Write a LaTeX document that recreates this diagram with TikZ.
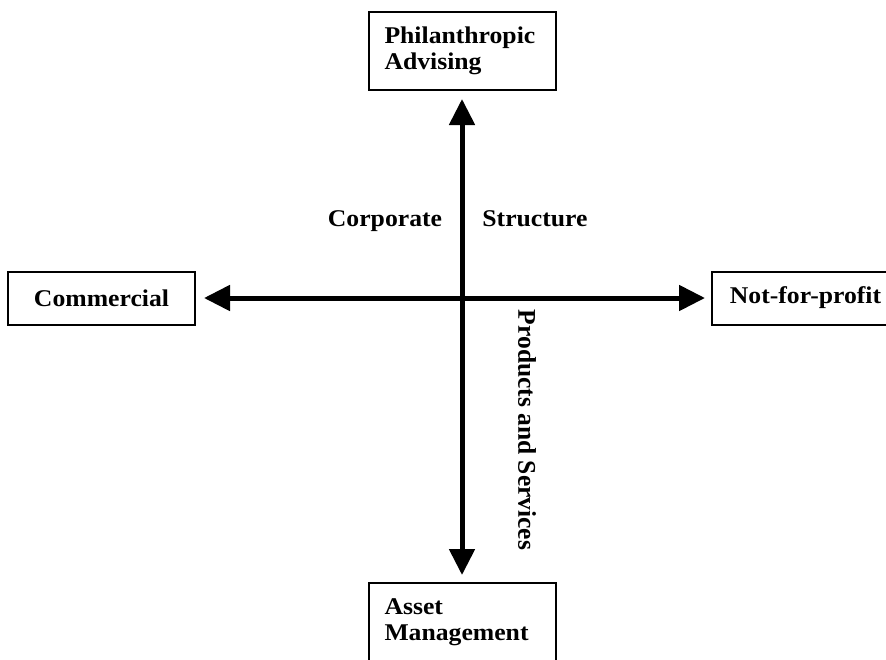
\documentclass[tikz,border=0pt]{standalone}
\usepackage{fontspec}
\setmainfont[FakeStretch=1.07]{Liberation Serif}
\newfontfamily\plainserif{Liberation Serif}
\usetikzlibrary{arrows.meta}
\tikzset{
  box/.style={draw, line width=2pt, minimum width=187pt, inner sep=0pt,
    font=\fontsize{24}{26}\selectfont\bfseries},
  tallbox/.style={box, minimum height=78pt, text width=155pt, align=left},
  widebox/.style={box, minimum height=53pt, align=center},
  axis/.style={line width=5pt, {Triangle[width=25pt,length=26pt]}-{Triangle[width=25pt,length=26pt]}},
  lbl/.style={font=\fontsize{24}{26}\selectfont\bfseries, inner sep=0pt}
}
\begin{document}
\begin{tikzpicture}[x=1pt,y=-1pt]
\useasboundingbox (0,0) rectangle (886,659);
\node[tallbox] (pa) at (462,51) {Philanthropic\\Advising};
\node[tallbox] (am) at (462,622) {Asset\\Management};
\node[widebox] (com) at (101.5,298) {Commercial};
\node[widebox] (nfp) at (805.5,298) {Not-for-profit};
\draw[axis, shorten <=8pt, shorten >=7pt] (pa.south) -- (am.north);
\draw[axis, shorten <=8pt, shorten >=6pt] (com.east) -- (nfp.west);
\node[lbl, anchor=base] (corp) at (385,226) {Corporate};
\node[lbl, anchor=base] (struct) at (535,226) {Structure};
\node[lbl, font=\plainserif\fontsize{25.5}{27}\selectfont\bfseries, rotate=-90] (ps) at (527,430) {Products and Services};
\end{tikzpicture}
\end{document}
